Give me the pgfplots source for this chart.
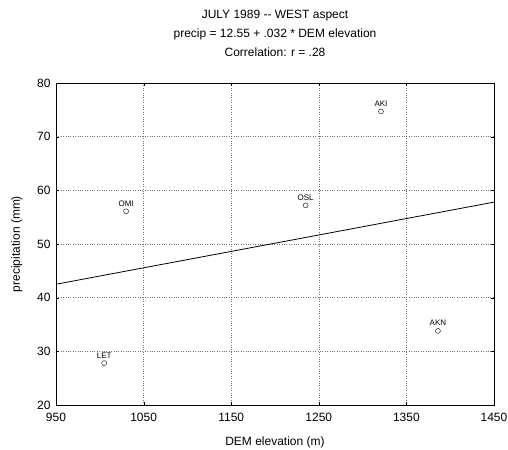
\documentclass[border=0pt]{standalone}
\usepackage{pgfplots}
\pgfplotsset{compat=1.18}
\usepackage{fontspec}
\setmainfont{Liberation Sans}
\begin{document}
\begin{tikzpicture}
\begin{axis}[
  scale only axis,
  width=438pt, height=322pt,
  xmin=950, xmax=1450, ymin=20, ymax=80,
  xtick={950,1050,1150,1250,1350,1450},
  ytick={20,30,40,50,60,70,80},
  /pgf/number format/assume math mode=true,
  /pgf/number format/set thousands separator={},
  tick label style={font=\fontsize{12}{14}\selectfont},
  xticklabel style={yshift=-5pt},
  yticklabel style={xshift=-2pt},
  grid=major,
  major grid style={dotted, black!55, line width=0.6pt},
  tick align=inside,
  major tick length=3pt,
  tick style={black},
  axis line style={black, line width=0.8pt},
  xlabel={DEM elevation (m)},
  ylabel={precipitation (mm)},
  label style={font=\fontsize{12}{14}\selectfont},
  xlabel style={yshift=-8pt},
  ylabel style={yshift=8pt},
  title style={align=center, font=\fontsize{12}{19}\selectfont, at={(0.5,1)}, anchor=south, yshift=17pt},
  title={JULY 1989 {-}{-} WEST aspect\\precip = 12.55 + .032 * DEM elevation\\Correlation: r = .28},
]
\addplot[black, line width=0.8pt] coordinates {(950,42.5) (1450,57.8)};
\addplot[only marks, mark=o, mark size=2.5pt, black,
  point meta=explicit symbolic,
  nodes near coords,
  nodes near coords style={font=\fontsize{8}{9}\selectfont, anchor=south, yshift=1.5pt}]
  table[meta=label] {
x y label
1005 27.8 LET
1030 56.1 OMI
1235 57.2 OSL
1321 74.7 AKI
1386 33.8 AKN
};
\end{axis}
\pgfresetboundingbox
\useasboundingbox ([shift={(-56pt,-45pt)}]current axis.south west) rectangle ([shift={(14pt,83pt)}]current axis.north east);
\end{tikzpicture}
\end{document}
